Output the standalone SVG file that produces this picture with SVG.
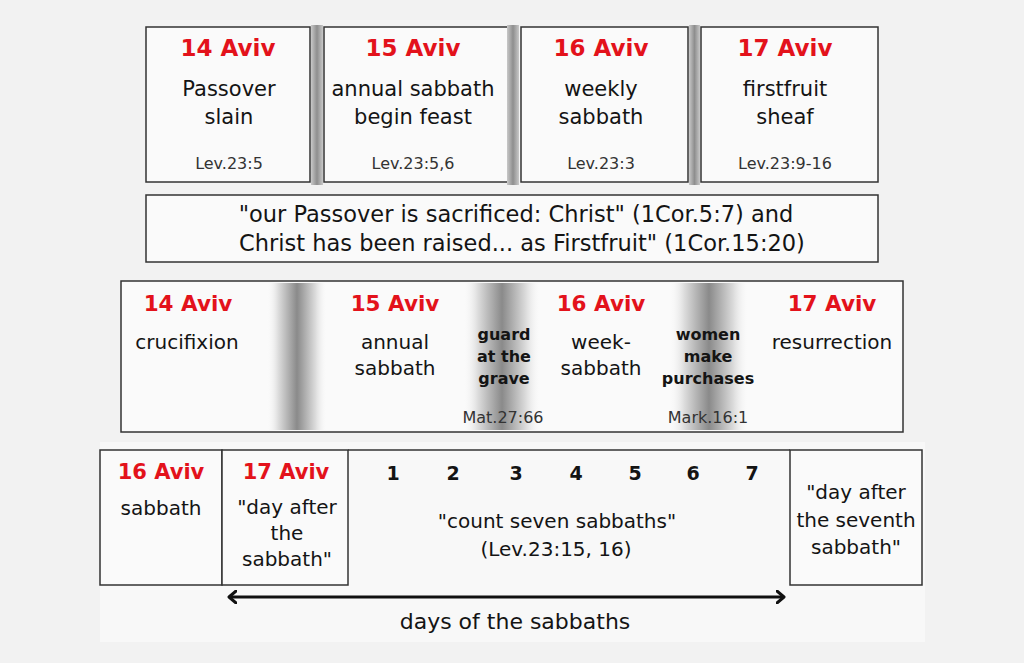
<svg xmlns="http://www.w3.org/2000/svg" width="1024" height="663" viewBox="0 0 1024 663">
<defs>
<style>
text{font-family:"DejaVu Sans","Verdana",sans-serif;text-anchor:middle;fill:#141414}
.box{fill:#fafafa;stroke:#333;stroke-width:1.5}
.red{fill:#e3121b;font-weight:bold;font-size:23px}
.red2{fill:#e3121b;font-weight:bold;font-size:21.5px}
.red3{fill:#e3121b;font-weight:bold;font-size:21px}
.t{font-size:20px}
.t21{font-size:21px}
.q{font-size:22.5px}
.ref{font-size:16px;fill:#333}
.b{font-weight:bold;font-size:16px}
.num{font-weight:bold;font-size:19px}
</style>
<linearGradient id="bar" x1="0" x2="1" y1="0" y2="0">
<stop offset="0" stop-color="#c8c8c8"/>
<stop offset="0.5" stop-color="#8e8e8e"/>
<stop offset="1" stop-color="#c8c8c8"/>
</linearGradient>
<linearGradient id="band" x1="0" x2="1" y1="0" y2="0">
<stop offset="0" stop-color="#ffffff" stop-opacity="0"/>
<stop offset="0.2" stop-color="#dcdcdc"/>
<stop offset="0.5" stop-color="#8a8a8a"/>
<stop offset="0.8" stop-color="#dcdcdc"/>
<stop offset="1" stop-color="#ffffff" stop-opacity="0"/>
</linearGradient>
<marker id="head" markerWidth="10" markerHeight="14" refX="8" refY="7" orient="auto-start-reverse" markerUnits="userSpaceOnUse">
<path d="M1,1 L8,7 L1,13" fill="none" stroke="#111" stroke-width="3" stroke-linecap="round" stroke-linejoin="round"/>
</marker>
</defs>
<rect width="1024" height="663" fill="#f2f2f2"/>
<rect x="100" y="442" width="825" height="200" fill="#f8f8f8"/>

<g id="top-row">
<g id="t1">
<rect class="box" x="146" y="27" width="164" height="155"/>
<text class="red" x="228" y="56">14 Aviv</text>
<text class="t21" x="229" y="96">Passover</text>
<text class="t21" x="229" y="124">slain</text>
<text class="ref" x="229" y="169">Lev.23:5</text>
</g>
<g id="t2">
<rect class="box" x="324" y="27" width="184" height="155"/>
<text class="red" x="413" y="56">15 Aviv</text>
<text class="t21" x="413" y="96">annual sabbath</text>
<text class="t21" x="413" y="124">begin feast</text>
<text class="ref" x="413" y="169">Lev.23:5,6</text>
</g>
<g id="t3">
<rect class="box" x="521" y="27" width="167" height="155"/>
<text class="red" x="601" y="56">16 Aviv</text>
<text class="t21" x="601" y="96">weekly</text>
<text class="t21" x="601" y="124">sabbath</text>
<text class="ref" x="601" y="169">Lev.23:3</text>
</g>
<g id="t4">
<rect class="box" x="701" y="27" width="177" height="155"/>
<text class="red" x="785" y="56">17 Aviv</text>
<text class="t21" x="785" y="96">firstfruit</text>
<text class="t21" x="785" y="124">sheaf</text>
<text class="ref" x="785" y="169">Lev.23:9-16</text>
</g>
<rect x="311" y="25" width="12" height="160" fill="url(#bar)"/>
<rect x="507" y="25" width="12" height="160" fill="url(#bar)"/>
<rect x="689" y="25" width="11" height="160" fill="url(#bar)"/>
</g>

<g id="quote">
<rect class="box" x="146" y="195" width="732" height="67"/>
<text class="q" x="516" y="222">"our Passover is sacrificed: Christ" (1Cor.5:7) and</text>
<text class="q" x="522" y="251">Christ has been raised... as Firstfruit" (1Cor.15:20)</text>
</g>

<g id="row3">
<rect class="box" x="121" y="281" width="782" height="151"/>
<rect x="266" y="283" width="62" height="147" fill="url(#band)"/>
<rect x="462" y="283" width="80" height="147" fill="url(#band)"/>
<rect x="668" y="283" width="82" height="147" fill="url(#band)"/>
<g id="r1">
<text class="red2" x="188" y="311">14 Aviv</text>
<text class="t" x="187" y="349">crucifixion</text>
</g>
<g id="r2">
<text class="red2" x="395" y="311">15 Aviv</text>
<text class="t" x="395" y="349">annual</text>
<text class="t" x="395" y="375">sabbath</text>
</g>
<g id="r2b">
<text class="b" x="504" y="340">guard</text>
<text class="b" x="504" y="362">at the</text>
<text class="b" x="504" y="384">grave</text>
<text class="ref" x="503" y="423">Mat.27:66</text>
</g>
<g id="r3">
<text class="red2" x="601" y="311">16 Aviv</text>
<text class="t" x="601" y="349">week-</text>
<text class="t" x="601" y="375">sabbath</text>
</g>
<g id="r3b">
<text class="b" x="708" y="340">women</text>
<text class="b" x="708" y="362">make</text>
<text class="b" x="708" y="384">purchases</text>
<text class="ref" x="708" y="423">Mark.16:1</text>
</g>
<g id="r4">
<text class="red2" x="832" y="311">17 Aviv</text>
<text class="t" x="832" y="349">resurrection</text>
</g>
</g>

<g id="bottom">
<g id="b1">
<rect class="box" x="100" y="450" width="122" height="135"/>
<text class="red3" x="161" y="479">16 Aviv</text>
<text class="t" x="161" y="515">sabbath</text>
</g>
<g id="b2">
<rect class="box" x="222" y="450" width="126" height="135"/>
<text class="red3" x="286" y="479">17 Aviv</text>
<text class="t" x="287" y="514">"day after</text>
<text class="t" x="287" y="540">the</text>
<text class="t" x="287" y="566">sabbath"</text>
</g>
<g id="b3">
<line x1="348" y1="450" x2="790" y2="450" stroke="#333" stroke-width="1.5"/>
<text class="num" x="393" y="480">1</text>
<text class="num" x="453" y="480">2</text>
<text class="num" x="516" y="480">3</text>
<text class="num" x="576" y="480">4</text>
<text class="num" x="635" y="480">5</text>
<text class="num" x="693" y="480">6</text>
<text class="num" x="752" y="480">7</text>
<text class="t" x="557" y="528">"count seven sabbaths"</text>
<text class="t" x="556" y="556">(Lev.23:15, 16)</text>
</g>
<g id="b4">
<rect class="box" x="790" y="450" width="132" height="135"/>
<text class="t" x="856" y="499">"day after</text>
<text class="t" x="856" y="527">the seventh</text>
<text class="t" x="856" y="554">sabbath"</text>
</g>
</g>

<g id="connectors">
<line x1="229" y1="597" x2="784" y2="597" stroke="#111" stroke-width="3" marker-start="url(#head)" marker-end="url(#head)"/>
</g>
<text class="t21" x="515" y="629" style="font-size:22px">days of the sabbaths</text>
</svg>
